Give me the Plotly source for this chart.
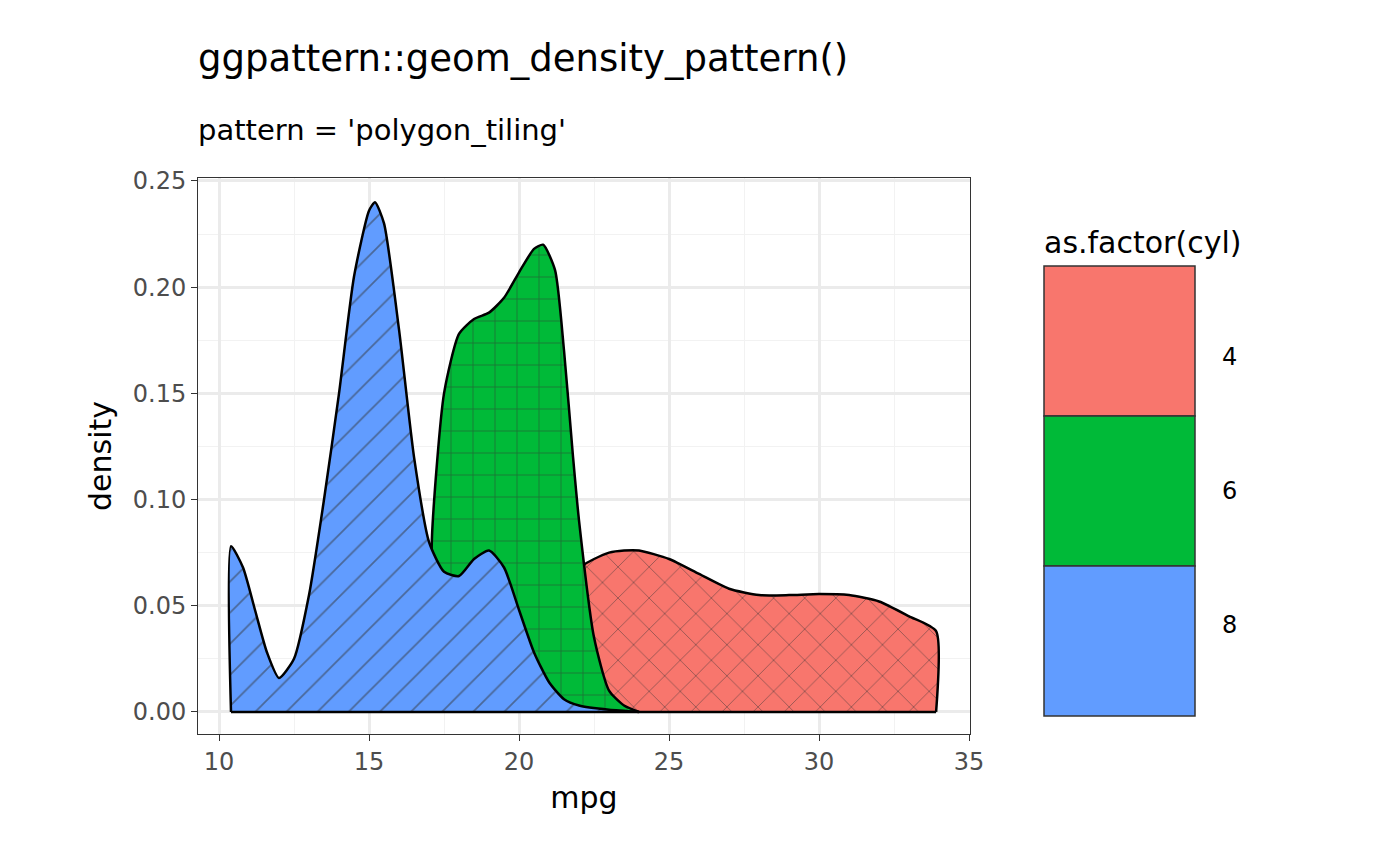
import plotly.graph_objects as go

# density curves (mpg vs density) per cylinder group
x_cyl8 = [10.4, 10.8, 11.2, 11.6, 12.0, 12.5, 13.0, 13.5, 14.0, 14.5, 15.0, 15.2, 15.5, 16.0, 16.5, 17.0, 17.5, 18.0, 18.5, 19.0, 19.5, 20.0, 20.5, 21.0, 21.5, 22.0, 23.0, 24.0]
y_cyl8 = [0.078, 0.068, 0.048, 0.028, 0.016, 0.025, 0.055, 0.100, 0.150, 0.205, 0.236, 0.240, 0.230, 0.180, 0.120, 0.080, 0.066, 0.064, 0.072, 0.076, 0.068, 0.048, 0.028, 0.014, 0.006, 0.003, 0.001, 0.0]

x_cyl6 = [17.1, 17.5, 18.0, 18.5, 19.0, 19.5, 20.0, 20.5, 20.8, 21.2, 21.5, 21.8, 22.0, 22.5, 23.0, 23.5, 24.0]
y_cyl6 = [0.083, 0.150, 0.178, 0.185, 0.188, 0.195, 0.207, 0.218, 0.220, 0.208, 0.170, 0.120, 0.090, 0.035, 0.010, 0.003, 0.0]

x_cyl4 = [21.4, 22.0, 22.5, 23.0, 23.5, 24.0, 25.0, 26.0, 27.0, 28.0, 29.0, 30.0, 31.0, 32.0, 33.0, 33.9]
y_cyl4 = [0.062, 0.068, 0.072, 0.075, 0.076, 0.076, 0.072, 0.065, 0.058, 0.055, 0.055, 0.0555, 0.055, 0.052, 0.045, 0.038]

groups = ["4", "6", "8"]
colors = {"4": "#F8766D", "6": "#00BA38", "8": "#619CFF"}
patterns = {"4": "x", "6": "+", "8": "/"}
x_min, x_max = 10.4, 33.9

fig = go.Figure()
for g, xs, ys in [("4", x_cyl4, y_cyl4), ("6", x_cyl6, y_cyl6), ("8", x_cyl8, y_cyl8)]:
    px = [xs[0]] + xs + [xs[-1]]
    py = [0] + ys + [0]
    fig.add_trace(go.Scatter(
        x=px, y=py, fill="toself", fillcolor=colors[g], mode="lines",
        line=dict(color="black", width=2.5, shape="spline", smoothing=0.6),
        fillpattern=dict(shape=patterns[g], fgcolor="#333333", bgcolor=colors[g], size=22, solidity=0.08),
        showlegend=False, hoverinfo="skip"))
# baseline along zero across the full data range
fig.add_trace(go.Scatter(x=[x_min, x_max], y=[0, 0], mode="lines",
                         line=dict(color="black", width=2.5), showlegend=False))

# manual legend
def px2paper(px, py):
    return (px - 190) / 772, (726 - py) / 556

box_tops = [258, 408, 558]
for g, top in zip(groups, box_tops):
    x0, y1 = px2paper(1036, top)
    x1, y0 = px2paper(1187, top + 150)
    fig.add_shape(type="rect", xref="paper", yref="paper", x0=x0, x1=x1, y0=y0, y1=y1,
                  fillcolor=colors[g], line=dict(color="#333333", width=1.5))
    lx, ly = px2paper(1212, top + 75)
    fig.add_annotation(xref="paper", yref="paper", x=lx, y=ly, text=g, showarrow=False,
                       xanchor="left", font=dict(size=24, color="black"))
tx, ty = px2paper(1034, 215)
fig.add_annotation(xref="paper", yref="paper", x=tx, y=ty, text="as.factor(cyl)", showarrow=False,
                   xanchor="left", font=dict(size=30, color="black"))
# title and subtitle
tx, ty = px2paper(188, 50)
fig.add_annotation(xref="paper", yref="paper", x=tx, y=ty, text="ggpattern::geom_density_pattern()",
                   showarrow=False, xanchor="left", yanchor="middle", font=dict(size=37, color="black"))
tx, ty = px2paper(188, 122)
fig.add_annotation(xref="paper", yref="paper", x=tx, y=ty, text="pattern = 'polygon_tiling'",
                   showarrow=False, xanchor="left", yanchor="middle", font=dict(size=29, color="black"))

fig.update_layout(
    width=1400, height=866, plot_bgcolor="white", paper_bgcolor="white",
    font=dict(family="DejaVu Sans", color="black"),
    margin=dict(l=190, r=438, t=170, b=140, autoexpand=False),
    xaxis=dict(title=dict(text="mpg", font=dict(size=30), standoff=12), range=[9.3, 35.03], automargin=False,
               tickvals=[10, 15, 20, 25, 30, 35], ticks="outside", ticklen=6, tickcolor="#333333",
               tickfont=dict(size=24, color="#4d4d4d"), showgrid=True, gridcolor="#ebebeb", gridwidth=2.5,
               minor=dict(dtick=2.5, showgrid=True, gridcolor="#f2f2f2", gridwidth=1.2),
               showline=True, linecolor="#333333", mirror=True, zeroline=False),
    yaxis=dict(title=dict(text="density", font=dict(size=30), standoff=12), range=[-0.0104, 0.2514], automargin=False,
               tickvals=[0, 0.05, 0.10, 0.15, 0.20, 0.25], tickformat=".2f", ticks="outside", ticklen=6,
               tickcolor="#333333", tickfont=dict(size=24, color="#4d4d4d"), showgrid=True,
               gridcolor="#ebebeb", gridwidth=2.5,
               minor=dict(dtick=0.025, showgrid=True, gridcolor="#f2f2f2", gridwidth=1.2),
               showline=True, linecolor="#333333", mirror=True, zeroline=False),
)
fig.write_html("out.html")
